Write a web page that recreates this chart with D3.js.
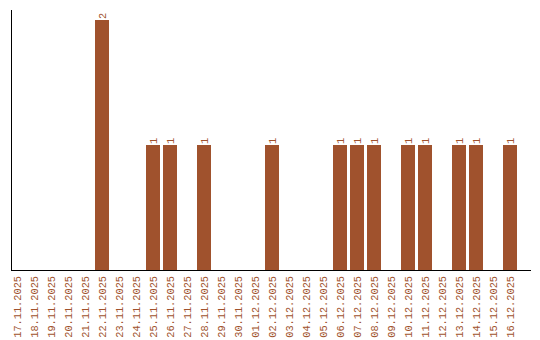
<!DOCTYPE html>
<html>
<head>
<meta charset="utf-8">
<script src="https://d3js.org/d3.v7.min.js"></script>
<style>
  body { margin: 0; background: #fff; }
  .rotulo { font: 10.3px "Liberation Mono", monospace; fill: #a0522d; }
</style>
</head>
<body>
<div id="chart"></div>
<script>
"use strict"
var datas = ["17.11.2025","18.11.2025","19.11.2025","20.11.2025","21.11.2025","22.11.2025",
  "23.11.2025","24.11.2025","25.11.2025","26.11.2025","27.11.2025","28.11.2025","29.11.2025",
  "30.11.2025","01.12.2025","02.12.2025","03.12.2025","04.12.2025","05.12.2025","06.12.2025",
  "07.12.2025","08.12.2025","09.12.2025","10.12.2025","11.12.2025","12.12.2025","13.12.2025",
  "14.12.2025","15.12.2025","16.12.2025"];
var valores = [0,0,0,0,0,2,0,0,1,1,0,1,0,0,0,1,0,0,0,1,1,1,0,1,1,0,1,1,0,1];

var cor = "#a0522d";
var svg = d3.select("#chart").append("svg")
  .attr("width", 540).attr("height", 340);

var x = d3.scaleBand()
  .domain(datas)
  .range([8.5, 518.5])
  .paddingInner(3 / 17)
  .paddingOuter(1.5 / 17);

var y = d3.scaleLinear().domain([0, 2]).range([270, 20]);

var dados = datas.map((d, i) => ({data: d, valor: valores[i]}));

svg.selectAll("rect.barra")
  .data(dados.filter(d => d.valor > 0))
  .enter().append("rect")
    .attr("class", "barra")
    .attr("x", d => x(d.data))
    .attr("y", d => y(d.valor))
    .attr("width", x.bandwidth())
    .attr("height", d => y(0) - y(d.valor))
    .attr("fill", cor)
    .attr("shape-rendering", "crispEdges");

svg.selectAll("text.valor")
  .data(dados.filter(d => d.valor > 0))
  .enter().append("text")
    .attr("class", "rotulo")
    .attr("transform", d => "translate(" + (x(d.data) + x.bandwidth() / 2 + 3.5) + "," + (y(d.valor) - 1) + ") rotate(-90)")
    .text(d => d.valor);

svg.selectAll("text.data")
  .data(datas)
  .enter().append("text")
    .attr("class", "rotulo")
    .attr("text-anchor", "end")
    .attr("transform", d => "translate(" + (x(d) + x.bandwidth() / 2 + 3.5) + ",276) rotate(-90)")
    .text(d => d);

// eixos
svg.append("line")
  .attr("x1", 11.5).attr("x2", 11.5).attr("y1", 10).attr("y2", 270.5)
  .attr("stroke", "#000").attr("shape-rendering", "crispEdges");
svg.append("line")
  .attr("x1", 11).attr("x2", 531).attr("y1", 270.5).attr("y2", 270.5)
  .attr("stroke", "#000").attr("shape-rendering", "crispEdges");
</script>
</body>
</html>
